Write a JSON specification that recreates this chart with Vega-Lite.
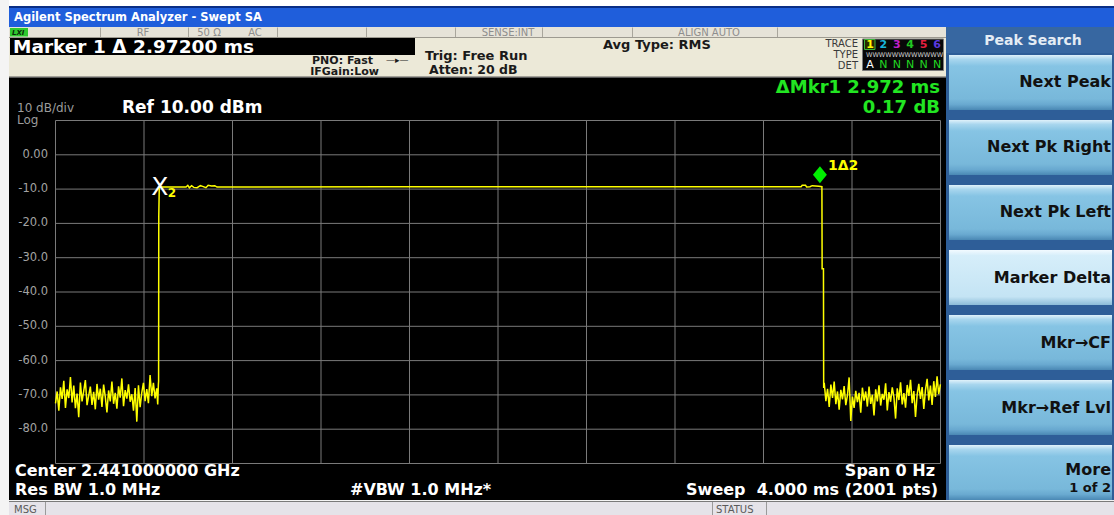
{
"$schema": "https://vega.github.io/schema/vega-lite/v6.json",
"padding": 0,
"background": "#f4f4f4",
"spacing": 0,
"config": {"view": {"stroke": null}, "concat": {"spacing": 0}, "text": {"font": "DejaVu Sans"}},
"datasets": {
"one": [{}],
"trace": [
{"t":0,"v":-72.5},{"t":0.0075,"v":-69.0},{"t":0.015,"v":-74.6},{"t":0.0225,"v":-67.8},{"t":0.03,"v":-71.2},{"t":0.0375,"v":-65.9},{"t":0.045,"v":-73.8},{"t":0.0525,"v":-68.4},{"t":0.06,"v":-70.9},{"t":0.0675,"v":-64.8},{"t":0.075,"v":-72.2},{"t":0.0825,"v":-67.3},{"t":0.09,"v":-73.9},{"t":0.0975,"v":-69.6},{"t":0.105,"v":-76.5},{"t":0.1125,"v":-66.4},{"t":0.12,"v":-71.9},{"t":0.1275,"v":-68.9},{"t":0.135,"v":-65.7},{"t":0.1425,"v":-73.0},{"t":0.15,"v":-70.2},{"t":0.1575,"v":-67.6},{"t":0.165,"v":-72.9},{"t":0.1725,"v":-69.1},{"t":0.18,"v":-74.2},{"t":0.1875,"v":-66.8},{"t":0.195,"v":-71.4},{"t":0.2025,"v":-68.2},{"t":0.21,"v":-73.5},{"t":0.2175,"v":-67.0},{"t":0.225,"v":-70.6},{"t":0.2325,"v":-75.1},{"t":0.24,"v":-68.7},{"t":0.2475,"v":-71.9},{"t":0.255,"v":-66.1},{"t":0.2625,"v":-72.6},{"t":0.27,"v":-69.4},{"t":0.2775,"v":-74.0},{"t":0.285,"v":-67.5},{"t":0.2925,"v":-70.8},{"t":0.3,"v":-65.2},{"t":0.3075,"v":-73.3},{"t":0.315,"v":-68.6},{"t":0.3225,"v":-71.1},{"t":0.33,"v":-66.9},{"t":0.3375,"v":-72.0},{"t":0.345,"v":-69.8},{"t":0.3525,"v":-74.6},{"t":0.36,"v":-68.0},{"t":0.3675,"v":-77.8},{"t":0.375,"v":-67.2},{"t":0.3825,"v":-73.6},{"t":0.39,"v":-69.3},{"t":0.3975,"v":-66.5},{"t":0.405,"v":-71.8},{"t":0.4125,"v":-68.3},{"t":0.42,"v":-72.4},{"t":0.4275,"v":-64.2},{"t":0.435,"v":-70.4},{"t":0.4425,"v":-66.5},{"t":0.45,"v":-71.0},{"t":0.4575,"v":-68.1},{"t":0.462,"v":-72.8},{"t":0.465,"v":-67.0},
{"t":0.466,"v":-66.0},{"t":0.4668,"v":-18.0},{"t":0.469,"v":-9.6},{"t":0.48,"v":-9.4},{"t":0.59,"v":-9.4},{"t":0.598,"v":-8.9},{"t":0.605,"v":-9.6},{"t":0.615,"v":-9.0},{"t":0.625,"v":-9.5},{"t":0.64,"v":-9.6},{"t":0.655,"v":-9.0},{"t":0.665,"v":-9.2},{"t":0.68,"v":-9.6},{"t":0.69,"v":-8.9},{"t":0.705,"v":-9.1},{"t":0.72,"v":-9.0},{"t":0.73,"v":-9.4},{"t":1.5,"v":-9.35},{"t":2.5,"v":-9.3},{"t":3.35,"v":-9.3},{"t":3.37,"v":-9.3},{"t":3.375,"v":-8.9},{"t":3.39,"v":-8.9},{"t":3.395,"v":-9.4},{"t":3.41,"v":-9.3},{"t":3.42,"v":-9.0},{"t":3.435,"v":-9.1},{"t":3.45,"v":-9.2},{"t":3.464,"v":-9.3},{"t":3.465,"v":-33.2},{"t":3.471,"v":-33.2},{"t":3.472,"v":-68.0},
{"t":3.4745,"v":-66.5},{"t":3.482,"v":-71.8},{"t":3.4895,"v":-68.2},{"t":3.497,"v":-73.5},{"t":3.5045,"v":-67.0},{"t":3.512,"v":-70.9},{"t":3.5195,"v":-66.1},{"t":3.527,"v":-72.7},{"t":3.5345,"v":-69.0},{"t":3.542,"v":-74.3},{"t":3.5495,"v":-68.5},{"t":3.557,"v":-71.3},{"t":3.5645,"v":-67.4},{"t":3.572,"v":-73.0},{"t":3.5795,"v":-70.1},{"t":3.587,"v":-64.9},{"t":3.5945,"v":-77.6},{"t":3.602,"v":-70.5},{"t":3.6095,"v":-73.8},{"t":3.617,"v":-68.8},{"t":3.6245,"v":-72.1},{"t":3.632,"v":-69.4},{"t":3.6395,"v":-75.2},{"t":3.647,"v":-67.9},{"t":3.6545,"v":-71.7},{"t":3.662,"v":-69.0},{"t":3.6695,"v":-73.4},{"t":3.677,"v":-67.6},{"t":3.6845,"v":-72.6},{"t":3.692,"v":-70.0},{"t":3.6995,"v":-76.0},{"t":3.707,"v":-68.4},{"t":3.7145,"v":-71.9},{"t":3.722,"v":-67.2},{"t":3.7295,"v":-73.1},{"t":3.737,"v":-69.7},{"t":3.7445,"v":-71.4},{"t":3.752,"v":-66.6},{"t":3.7595,"v":-74.5},{"t":3.767,"v":-69.2},{"t":3.7745,"v":-72.0},{"t":3.782,"v":-67.8},{"t":3.7895,"v":-70.7},{"t":3.797,"v":-76.9},{"t":3.8045,"v":-68.1},{"t":3.812,"v":-71.5},{"t":3.8195,"v":-66.3},{"t":3.827,"v":-72.8},{"t":3.8345,"v":-69.5},{"t":3.842,"v":-73.7},{"t":3.8495,"v":-67.1},{"t":3.857,"v":-70.3},{"t":3.8645,"v":-65.6},{"t":3.872,"v":-72.4},{"t":3.8795,"v":-68.9},{"t":3.887,"v":-76.4},{"t":3.8945,"v":-69.9},{"t":3.902,"v":-66.8},{"t":3.9095,"v":-71.2},{"t":3.917,"v":-67.7},{"t":3.9245,"v":-74.1},{"t":3.932,"v":-68.6},{"t":3.9395,"v":-65.3},{"t":3.947,"v":-71.6},{"t":3.9545,"v":-67.3},{"t":3.962,"v":-72.9},{"t":3.9695,"v":-66.0},{"t":3.977,"v":-70.6},{"t":3.9845,"v":-64.6},{"t":3.992,"v":-69.8},{"t":3.9995,"v":-66.9}
],
"xgrid": [{"t":0},{"t":0.4},{"t":0.8},{"t":1.2},{"t":1.6},{"t":2.0},{"t":2.4},{"t":2.8},{"t":3.2},{"t":3.6},{"t":4.0}],
"ygrid": [{"v":10,"label":""},{"v":0,"label":"0.00"},{"v":-10,"label":"-10.0"},{"v":-20,"label":"-20.0"},{"v":-30,"label":"-30.0"},{"v":-40,"label":"-40.0"},{"v":-50,"label":"-50.0"},{"v":-60,"label":"-60.0"},{"v":-70,"label":"-70.0"},{"v":-80,"label":"-80.0"},{"v":-90,"label":""}],
"markers": [{"id":"2","t":0.472,"v":-9.3},{"id":"1","t":3.455,"v":-9.2}],
"slots": [{"k":"1","d":"A"},{"k":"2","d":"N"},{"k":"3","d":"N"},{"k":"4","d":"N"},{"k":"5","d":"N"},{"k":"6","d":"N"}],
"softkeys": [{"key":"Next Peak","sub":""},{"key":"Next Pk Right","sub":""},{"key":"Next Pk Left","sub":""},{"key":"Marker Delta","sub":""},{"key":"Mkr→CF","sub":""},{"key":"Mkr→Ref Lvl","sub":""},{"key":"More","sub":"1 of 2"}]
},
"hconcat": [
{"width": 9, "height": 515, "data": {"name": "one"}, "mark": {"type": "rect", "x": 0, "x2": 9, "y": 0, "y2": 515, "fill": "#f4f4f4"}, "encoding": {}},
{"spacing": 0, "vconcat": [
 {"width": 1105, "height": 6, "data": {"name": "one"}, "mark": {"type": "rect", "x": 0, "x2": 1105, "y": 0, "y2": 6, "fill": "#ffffff"}, "encoding": {}},
 {"width": 1105, "height": 21, "data": {"name": "one"}, "layer": [
  {"mark": {"type": "rect", "x": 0, "x2": 1105, "y": 0, "y2": 21, "fill": "#1f5edb"}, "encoding": {}},
  {"mark": {"type": "rect", "x": 0, "x2": 1105, "y": 0, "y2": 2, "fill": "#0b2f86"}, "encoding": {}},
  {"mark": {"type": "text", "text": "Agilent Spectrum Analyzer - Swept SA", "x": 5, "y": 11.5, "align": "left", "baseline": "middle", "fontSize": 11.5, "fontWeight": "bold", "color": "#ffffff"}}
 ]},
 {"spacing": 0, "hconcat": [
  {"spacing": 0, "vconcat": [
   {"width": 937, "height": 51, "data": {"name": "one"}, "layer": [
    {"mark": {"type": "rect", "x": 0, "x2": 937, "y": 0, "y2": 51, "fill": "#ece9d8"}, "encoding": {}},
    {"mark": {"type": "rect", "x": 0, "x2": 937, "y": 0, "y2": 10, "fill": "#e6e3d8"}, "encoding": {}},
    {"mark": {"type": "rect", "x": 0, "x2": 937, "y": 10, "y2": 11, "fill": "#9d9a90"}, "encoding": {}},
    {"mark": {"type": "rect", "x": 91, "x2": 92, "y": 0.5, "y2": 10, "fill": "#a9a69c"}, "encoding": {}},
    {"mark": {"type": "rect", "x": 179, "x2": 180, "y": 0.5, "y2": 10, "fill": "#a9a69c"}, "encoding": {}},
    {"mark": {"type": "rect", "x": 268, "x2": 269, "y": 0.5, "y2": 10, "fill": "#a9a69c"}, "encoding": {}},
    {"mark": {"type": "rect", "x": 357, "x2": 358, "y": 0.5, "y2": 10, "fill": "#a9a69c"}, "encoding": {}},
    {"mark": {"type": "rect", "x": 446, "x2": 447, "y": 0.5, "y2": 10, "fill": "#a9a69c"}, "encoding": {}},
    {"mark": {"type": "rect", "x": 533, "x2": 534, "y": 0.5, "y2": 10, "fill": "#a9a69c"}, "encoding": {}},
    {"mark": {"type": "rect", "x": 623, "x2": 624, "y": 0.5, "y2": 10, "fill": "#a9a69c"}, "encoding": {}},
    {"mark": {"type": "rect", "x": 768, "x2": 769, "y": 0.5, "y2": 10, "fill": "#a9a69c"}, "encoding": {}},
    {"mark": {"type": "rect", "x": 1, "x2": 19, "y": 1, "y2": 9.5, "fill": "#2ec82e"}, "encoding": {}},
    {"mark": {"type": "text", "text": "LXI", "x": 3, "y": 5.5, "align": "left", "baseline": "middle", "fontSize": 7, "fontStyle": "italic", "fontWeight": "bold", "color": "#0a2a0a"}},
    {"mark": {"type": "text", "text": "RF", "x": 134, "y": 5.5, "align": "center", "baseline": "middle", "fontSize": 10, "color": "#8e8e8e"}},
    {"mark": {"type": "text", "text": "50 Ω", "x": 200, "y": 5.5, "align": "center", "baseline": "middle", "fontSize": 10, "color": "#8e8e8e"}},
    {"mark": {"type": "text", "text": "AC", "x": 246, "y": 5.5, "align": "center", "baseline": "middle", "fontSize": 10, "color": "#8e8e8e"}},
    {"mark": {"type": "text", "text": "SENSE:INT", "x": 499, "y": 5.5, "align": "center", "baseline": "middle", "fontSize": 10, "color": "#8e8e8e"}},
    {"mark": {"type": "text", "text": "ALIGN AUTO", "x": 700, "y": 5.5, "align": "center", "baseline": "middle", "fontSize": 10, "color": "#8e8e8e"}},
    {"mark": {"type": "rect", "x": 1, "x2": 406, "y": 11, "y2": 28, "fill": "#000000"}, "encoding": {}},
    {"mark": {"type": "text", "text": "Marker 1 Δ 2.97200 ms", "x": 4, "y": 20, "align": "left", "baseline": "middle", "fontSize": 18.5, "fontWeight": "bold", "color": "#ffffff"}},
    {"mark": {"type": "text", "text": "PNO: Fast", "x": 364, "y": 33.5, "align": "right", "baseline": "middle", "fontSize": 11, "fontWeight": "bold", "color": "#1a1a1a"}},
    {"mark": {"type": "text", "text": "—▸—", "x": 377, "y": 33, "align": "left", "baseline": "middle", "fontSize": 9, "color": "#1a1a1a"}},
    {"mark": {"type": "text", "text": "IFGain:Low", "x": 370, "y": 44.5, "align": "right", "baseline": "middle", "fontSize": 11, "fontWeight": "bold", "color": "#1a1a1a"}},
    {"mark": {"type": "text", "text": "Trig: Free Run", "x": 416, "y": 29, "align": "left", "baseline": "middle", "fontSize": 13, "fontWeight": "bold", "color": "#1a1a1a"}},
    {"mark": {"type": "text", "text": "Atten: 20 dB", "x": 420, "y": 42.5, "align": "left", "baseline": "middle", "fontSize": 12.5, "fontWeight": "bold", "color": "#1a1a1a"}},
    {"mark": {"type": "text", "text": "Avg Type: RMS", "x": 594, "y": 17.5, "align": "left", "baseline": "middle", "fontSize": 13, "fontWeight": "bold", "color": "#1a1a1a"}},
    {"mark": {"type": "text", "text": "TRACE", "x": 849, "y": 16.5, "align": "right", "baseline": "middle", "fontSize": 10, "color": "#3a3a3a"}},
    {"mark": {"type": "text", "text": "TYPE", "x": 849, "y": 27.5, "align": "right", "baseline": "middle", "fontSize": 10, "color": "#3a3a3a"}},
    {"mark": {"type": "text", "text": "DET", "x": 849, "y": 38.5, "align": "right", "baseline": "middle", "fontSize": 10, "color": "#3a3a3a"}},
    {"mark": {"type": "rect", "x": 853.5, "x2": 934.5, "y": 12, "y2": 43.5, "fill": "#080808", "stroke": "#7a7a7a", "strokeWidth": 1}, "encoding": {}},
    {"mark": {"type": "rect", "x": 855.5, "x2": 866, "y": 12.5, "y2": 22.5, "fill": "#2a2a00", "stroke": "#3cb43c", "strokeWidth": 1}, "encoding": {}},
    {"data": {"name": "slots"}, "mark": {"type": "text", "baseline": "middle", "align": "center", "fontSize": 11, "fontWeight": "bold", "y": 17.5},
     "encoding": {"x": {"field": "k", "type": "ordinal", "scale": {"type": "point", "domain": ["1","2","3","4","5","6"], "range": [861, 928], "padding": 0}, "axis": null},
      "text": {"field": "k"},
      "color": {"field": "k", "type": "nominal", "scale": {"domain": ["1","2","3","4","5","6"], "range": ["#ffff00","#18b4dc","#c020c8","#22c822","#e82040","#5a3ae0"]}, "legend": null}}},
    {"mark": {"type": "text", "text": "WWWWWWWWWWWW", "x": 857, "y": 27.5, "align": "left", "baseline": "middle", "fontSize": 6.5, "color": "#cfcfcf"}},
    {"data": {"name": "slots"}, "mark": {"type": "text", "baseline": "middle", "align": "center", "fontSize": 11, "y": 38},
     "encoding": {"x": {"field": "k", "type": "ordinal", "axis": null},
      "text": {"field": "d"},
      "color": {"condition": {"test": "datum.k === '1'", "value": "#ffffff"}, "value": "#22d822"}}},
    {"mark": {"type": "rect", "x": 0, "x2": 937, "y": 49.5, "y2": 51, "fill": "#5a5a5a"}, "encoding": {}}
   ]},
   {"width": 937, "height": 422, "layer": [
    {"data": {"name": "one"}, "mark": {"type": "rect", "x": 0, "x2": 937, "y": 0, "y2": 422, "fill": "#000000"}, "encoding": {}},
    {"data": {"name": "xgrid"}, "mark": {"type": "rule", "color": "#7a7a7a", "strokeWidth": 1},
     "encoding": {"x": {"field": "t", "type": "quantitative", "scale": {"domain": [0, 4], "range": [46.5, 931.5], "nice": false, "zero": false}, "axis": null},
      "y": {"datum": 10, "type": "quantitative", "scale": {"domain": [-90, 10], "range": [385.5, 42.5], "nice": false, "zero": false}, "axis": null},
      "y2": {"datum": -90}}},
    {"data": {"name": "ygrid"}, "mark": {"type": "rule", "color": "#7a7a7a", "strokeWidth": 1},
     "encoding": {"y": {"field": "v", "type": "quantitative", "axis": null}, "x": {"datum": 0, "type": "quantitative", "axis": null}, "x2": {"datum": 4}}},
    {"data": {"name": "ygrid"}, "mark": {"type": "text", "align": "right", "baseline": "middle", "fontSize": 11.5, "color": "#a3a3a3"},
     "encoding": {"y": {"field": "v", "type": "quantitative", "axis": null}, "x": {"value": 39}, "text": {"field": "label"}}},
    {"data": {"name": "trace"}, "mark": {"type": "line", "color": "#ffff00", "strokeWidth": 1.5},
     "encoding": {"x": {"field": "t", "type": "quantitative", "axis": null}, "y": {"field": "v", "type": "quantitative", "axis": null}}},
    {"data": {"name": "markers"}, "transform": [{"filter": "datum.id === '2'"}], "mark": {"type": "text", "text": "X", "align": "center", "baseline": "middle", "fontSize": 25, "color": "#ffffff"},
     "encoding": {"x": {"field": "t", "type": "quantitative", "axis": null}, "y": {"field": "v", "type": "quantitative", "axis": null}}},
    {"data": {"name": "markers"}, "transform": [{"filter": "datum.id === '2'"}], "mark": {"type": "text", "align": "center", "baseline": "middle", "fontSize": 12, "fontWeight": "bold", "color": "#ffff00", "dx": 12, "dy": 6},
     "encoding": {"x": {"field": "t", "type": "quantitative", "axis": null}, "y": {"field": "v", "type": "quantitative", "axis": null}, "text": {"field": "id"}}},
    {"data": {"name": "markers"}, "transform": [{"filter": "datum.id === '1'"}], "mark": {"type": "point", "shape": "M0,-0.38L-0.82,-1.38L0,-2.38L0.82,-1.38Z", "size": 289, "filled": true, "color": "#00ee00", "opacity": 1},
     "encoding": {"x": {"field": "t", "type": "quantitative", "axis": null}, "y": {"field": "v", "type": "quantitative", "axis": null}}},
    {"data": {"name": "markers"}, "transform": [{"filter": "datum.id === '1'"}], "mark": {"type": "text", "text": "1Δ2", "align": "left", "baseline": "middle", "fontSize": 14, "fontWeight": "bold", "color": "#ffff00", "dx": 8, "dy": -20},
     "encoding": {"x": {"field": "t", "type": "quantitative", "axis": null}, "y": {"field": "v", "type": "quantitative", "axis": null}}},
    {"data": {"name": "one"}, "mark": {"type": "text", "text": "10 dB/div", "x": 8, "y": 29.5, "align": "left", "baseline": "middle", "fontSize": 12, "color": "#9c9c9c"}},
    {"data": {"name": "one"}, "mark": {"type": "text", "text": "Log", "x": 8, "y": 41.5, "align": "left", "baseline": "middle", "fontSize": 12, "color": "#9c9c9c"}},
    {"data": {"name": "one"}, "mark": {"type": "text", "text": "Ref 10.00 dBm", "x": 113, "y": 30, "align": "left", "baseline": "middle", "fontSize": 17, "fontWeight": "bold", "color": "#ffffff"}},
    {"data": {"name": "one"}, "mark": {"type": "text", "text": "ΔMkr1 2.972 ms", "x": 931, "y": 10, "align": "right", "baseline": "middle", "fontSize": 18, "fontWeight": "bold", "color": "#22e622"}},
    {"data": {"name": "one"}, "mark": {"type": "text", "text": "0.17 dB", "x": 931, "y": 30, "align": "right", "baseline": "middle", "fontSize": 18, "fontWeight": "bold", "color": "#22e622"}},
    {"data": {"name": "one"}, "mark": {"type": "text", "text": "Center 2.441000000 GHz", "x": 6, "y": 393, "align": "left", "baseline": "middle", "fontSize": 16, "fontWeight": "bold", "color": "#ffffff"}},
    {"data": {"name": "one"}, "mark": {"type": "text", "text": "Res BW 1.0 MHz", "x": 6, "y": 411.5, "align": "left", "baseline": "middle", "fontSize": 16, "fontWeight": "bold", "color": "#ffffff"}},
    {"data": {"name": "one"}, "mark": {"type": "text", "text": "#VBW 1.0 MHz*", "x": 341, "y": 411.5, "align": "left", "baseline": "middle", "fontSize": 16, "fontWeight": "bold", "color": "#ffffff"}},
    {"data": {"name": "one"}, "mark": {"type": "text", "text": "Span 0 Hz", "x": 926, "y": 393, "align": "right", "baseline": "middle", "fontSize": 16, "fontWeight": "bold", "color": "#ffffff"}},
    {"data": {"name": "one"}, "mark": {"type": "text", "text": "Sweep\u00a0 4.000 ms (2001 pts)", "x": 929, "y": 411.5, "align": "right", "baseline": "middle", "fontSize": 16, "fontWeight": "bold", "color": "#ffffff"}}
   ]}
  ]},
  {"width": 168, "height": 473, "layer": [
   {"data": {"name": "one"}, "mark": {"type": "rect", "x": 0, "x2": 168, "y": 0, "y2": 473, "fill": "#2e5e98"}, "encoding": {}},
   {"data": {"name": "one"}, "mark": {"type": "rect", "x": 0, "x2": 168, "y": 0, "y2": 26, "fill": "#3767a1"}, "encoding": {}},
   {"data": {"name": "one"}, "mark": {"type": "text", "text": "Peak Search", "x": 87, "y": 13.5, "align": "center", "baseline": "middle", "fontSize": 14, "fontWeight": "bold", "color": "#e4ecf4"}},
   {"data": {"name": "softkeys"}, "transform": [{"filter": "datum.key !== 'Marker Delta'"}],
    "mark": {"type": "rect", "color": {"gradient": "linear", "x1": 0, "y1": 0, "x2": 0, "y2": 1, "stops": [{"offset": 0, "color": "#dff1fa"}, {"offset": 0.08, "color": "#a8d6ee"}, {"offset": 0.2, "color": "#86c4e4"}, {"offset": 0.8, "color": "#78b8da"}, {"offset": 0.9, "color": "#69a9d0"}, {"offset": 1, "color": "#4a88b4"}]}},
    "encoding": {"y": {"field": "key", "type": "nominal", "sort": null, "scale": {"type": "band", "domain": ["Next Peak","Next Pk Right","Next Pk Left","Marker Delta","Mkr→CF","Mkr→Ref Lvl","More"], "range": [28, 473], "paddingInner": 0.155, "paddingOuter": 0}, "axis": null},
     "x": {"value": 3}, "x2": {"value": 166}}},
   {"data": {"name": "softkeys"}, "transform": [{"filter": "datum.key === 'Marker Delta'"}],
    "mark": {"type": "rect", "color": {"gradient": "linear", "x1": 0, "y1": 0, "x2": 0, "y2": 1, "stops": [{"offset": 0, "color": "#f2faff"}, {"offset": 0.1, "color": "#d6eefa"}, {"offset": 0.85, "color": "#c4e4f4"}, {"offset": 1, "color": "#8cbcd8"}]}},
    "encoding": {"y": {"field": "key", "type": "nominal", "sort": null, "axis": null}, "x": {"value": 3}, "x2": {"value": 166}}},
   {"data": {"name": "softkeys"}, "transform": [{"filter": "datum.sub === ''"}],
    "mark": {"type": "text", "align": "right", "baseline": "middle", "fontSize": 16, "fontWeight": "bold", "color": "#111111"},
    "encoding": {"y": {"field": "key", "type": "nominal", "sort": null, "axis": null}, "x": {"value": 165}, "text": {"field": "key"}}},
   {"data": {"name": "softkeys"}, "transform": [{"filter": "datum.sub !== ''"}],
    "mark": {"type": "text", "align": "right", "baseline": "middle", "fontSize": 16, "fontWeight": "bold", "color": "#111111", "dy": -3},
    "encoding": {"y": {"field": "key", "type": "nominal", "sort": null, "axis": null}, "x": {"value": 165}, "text": {"field": "key"}}},
   {"data": {"name": "softkeys"}, "transform": [{"filter": "datum.sub !== ''"}],
    "mark": {"type": "text", "align": "right", "baseline": "middle", "fontSize": 13, "fontWeight": "bold", "color": "#111111", "dy": 15},
    "encoding": {"y": {"field": "key", "type": "nominal", "sort": null, "axis": null}, "x": {"value": 165}, "text": {"field": "sub"}}}
  ]}
 ]},
 {"width": 1105, "height": 15, "data": {"name": "one"}, "layer": [
  {"mark": {"type": "rect", "x": 0, "x2": 1105, "y": 0, "y2": 15, "fill": "#e5e3e9"}, "encoding": {}},
  {"mark": {"type": "rect", "x": 0, "x2": 1105, "y": 0, "y2": 1, "fill": "#7a7a7a"}, "encoding": {}},
  {"mark": {"type": "text", "text": "MSG", "x": 5, "y": 8.5, "align": "left", "baseline": "middle", "fontSize": 10, "color": "#5a5a5a"}},
  {"mark": {"type": "rect", "x": 36, "x2": 37, "y": 1, "y2": 15, "fill": "#9a9a9a"}, "encoding": {}},
  {"mark": {"type": "rect", "x": 703, "x2": 704, "y": 1, "y2": 15, "fill": "#9a9a9a"}, "encoding": {}},
  {"mark": {"type": "text", "text": "STATUS", "x": 707, "y": 8.5, "align": "left", "baseline": "middle", "fontSize": 10, "color": "#5a5a5a"}},
  {"mark": {"type": "rect", "x": 757, "x2": 758, "y": 1, "y2": 15, "fill": "#9a9a9a"}, "encoding": {}}
 ]}
]}
]
}
